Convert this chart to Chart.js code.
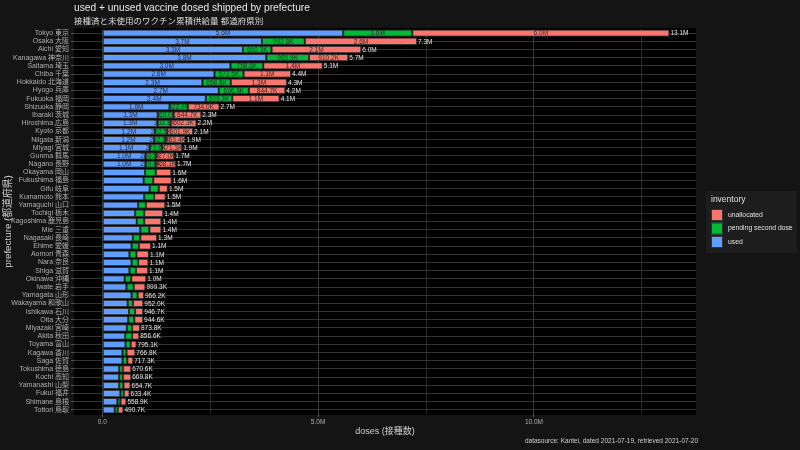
<!DOCTYPE html>
<html>
<head>
<meta charset="utf-8">
<script src="https://cdn.jsdelivr.net/npm/chart.js@4.4.1/dist/chart.umd.min.js"></script>
<style>
  html, body { margin: 0; padding: 0; background: #141414; }
  canvas { display: block; }
</style>
</head>
<body>
<canvas id="c" width="800" height="450"></canvas>
<script>
// ---- data (doses, in thousands) ----
const prefectures = [
  "Tokyo 東京","Osaka 大阪","Aichi 愛知","Kanagawa 神奈川","Saitama 埼玉","Chiba 千葉","Hokkaido 北海道","Hyogo 兵庫",
  "Fukuoka 福岡","Shizuoka 静岡","Ibaraki 茨城","Hiroshima 広島","Kyoto 京都","Niigata 新潟","Miyagi 宮城","Gunma 群馬",
  "Nagano 長野","Okayama 岡山","Fukushima 福島","Gifu 岐阜","Kumamoto 熊本","Yamaguchi 山口","Tochigi 栃木","Kagoshima 鹿児島",
  "Mie 三重","Nagasaki 長崎","Ehime 愛媛","Aomori 青森","Nara 奈良","Shiga 滋賀","Okinawa 沖縄","Iwate 岩手",
  "Yamagata 山形","Wakayama 和歌山","Ishikawa 石川","Oita 大分","Miyazaki 宮崎","Akita 秋田","Toyama 富山","Kagawa 香川",
  "Saga 佐賀","Tokushima 徳島","Kochi 高知","Yamanashi 山梨","Fukui 福井","Shimane 島根","Tottori 鳥取"
];
const used = [
  5580, 3700, 3260, 3800, 2970, 2600, 2320, 2700,
  2400, 1560, 1290, 1280, 1220, 1200, 1100, 1000,
  1000, 990, 960, 1100, 970, 830, 760, 800,
  880, 710, 680, 630, 680, 630, 520, 560,
  680, 590, 620, 600, 570, 530, 540, 470,
  470, 390, 390, 390, 420, 350, 290
];
const pendingSecondDose = [
  1600, 992.8, 660.3, 989.9, 758.6, 672.5, 658.8, 696.8,
  609.3, 422.4, 360.0, 303.1, 282.5, 262.1, 279.6, 240.9,
  239.4, 250, 220, 210, 230, 180, 210, 170,
  210, 170, 170, 160, 150, 150, 150, 170,
  140, 120, 140, 140, 120, 160, 120, 90,
  110, 90, 90, 100, 80, 70, 70
];
const unallocated = [
  5960, 2600, 2080, 910.2, 1380, 1100, 1300, 844.7,
  1100, 734.0, 644.7, 602.3, 601.9, 463.4, 471.3, 427.0,
  468.1, 360, 430, 210, 270, 450, 440, 400,
  280, 390, 280, 290, 240, 280, 350, 269.3,
  146.2, 242.0, 186.7, 204.6, 183.8, 166.6, 135.1, 206.8,
  137.3, 190.6, 189.8, 164.7, 133.4, 138.9, 130.7
];
const xTickValues = [0, 2500, 5000, 7500, 10000, 12500];
const xMajorTicks = [0, 5000, 10000];
const labelledRows = 17; // rows whose segments carry value labels

const FONT = '"Liberation Sans", "Noto Sans CJK JP", sans-serif';
const COL_UNALLOC = '#F8766D', COL_PENDING = '#00BA38', COL_USED = '#619CFF';

function fmt(vK) {
  if (vK === 0) return '0.0';
  if (vK >= 1000) return (vK / 1000).toFixed(1) + 'M';
  return vK.toFixed(1) + 'K';
}

Chart.defaults.font.family = FONT;

const decor = {
  id: 'decor',
  beforeDraw(chart) {
    const ctx = chart.ctx, a = chart.chartArea;
    ctx.save();
    ctx.fillStyle = '#141414';
    ctx.fillRect(0, 0, chart.width, chart.height);
    ctx.fillStyle = '#000000';
    ctx.fillRect(a.left, a.top - 1, a.right - a.left, a.bottom - a.top + 2);
    ctx.restore();
  },
  afterDatasetsDraw(chart) {
    const ctx = chart.ctx;
    ctx.save();
    ctx.textBaseline = 'middle';
    // segment labels
    ctx.font = '6.5px ' + FONT;
    ctx.textAlign = 'center';
    ctx.fillStyle = '#2a2a2a';
    chart.data.datasets.forEach((ds, di) => {
      const meta = chart.getDatasetMeta(di);
      meta.data.forEach((bar, i) => {
        if (i >= labelledRows) return;
        const cx = (bar.x + bar.base) / 2;
        ctx.fillText(fmt(ds.data[i]), cx, bar.y + 0.5);
      });
    });
    // totals
    ctx.textAlign = 'left';
    ctx.fillStyle = '#e6e6e6';
    const last = chart.getDatasetMeta(chart.data.datasets.length - 1);
    last.data.forEach((bar, i) => {
      const total = used[i] + pendingSecondDose[i] + unallocated[i];
      ctx.fillText(fmt(total), bar.x + 1, bar.y + 0.5);
    });
    ctx.restore();
  },
  afterDraw(chart) {
    const ctx = chart.ctx, a = chart.chartArea;
    ctx.save();
    // titles
    ctx.textAlign = 'left';
    ctx.textBaseline = 'alphabetic';
    ctx.fillStyle = '#e8e8e8';
    ctx.font = '10.2px ' + FONT;
    ctx.fillText('used + unused vaccine dosed shipped by prefecture', a.left, 10.5);
    ctx.fillStyle = '#dcdcdc';
    ctx.font = '8.5px ' + FONT;
    ctx.fillText('接種済と未使用のワクチン累積供給量 都道府県別', a.left, 23.5);
    // axis titles
    ctx.fillStyle = '#d0d0d0';
    ctx.font = '9px ' + FONT;
    ctx.textAlign = 'center';
    ctx.textBaseline = 'middle';
    ctx.fillText('doses (接種数)', (a.left + a.right) / 2, 432);
    ctx.save();
    ctx.translate(8.5, (a.top + a.bottom) / 2);
    ctx.rotate(-Math.PI / 2);
    ctx.font = '9.8px ' + FONT;
    ctx.fillText('prefecture (都道府県)', 0, 0);
    ctx.restore();
    // caption
    ctx.textAlign = 'right';
    ctx.fillStyle = '#d0d0d0';
    ctx.font = '6.5px ' + FONT;
    ctx.fillText('datasource: Kantei, dated 2021-07-19, retrieved 2021-07-20', a.right + 2, 441);
    // legend
    ctx.fillStyle = '#1d1d1d';
    ctx.fillRect(706, 191, 91, 62);
    ctx.textAlign = 'left';
    ctx.fillStyle = '#e0e0e0';
    ctx.font = '8.5px ' + FONT;
    ctx.fillText('inventory', 711, 200);
    const ds = chart.data.datasets;
    const order = [2, 1, 0];
    ctx.font = '6.8px ' + FONT;
    order.forEach((di, k) => {
      const y = 209 + k * 13.5;
      ctx.fillStyle = ds[di].backgroundColor;
      ctx.fillRect(711, y, 12, 12);
      ctx.strokeStyle = '#333';
      ctx.lineWidth = 1;
      ctx.strokeRect(711.5, y + 0.5, 11, 11);
      ctx.fillStyle = '#e0e0e0';
      ctx.fillText(ds[di].label, 728, y + 6);
    });
    ctx.restore();
  }
};

new Chart(document.getElementById('c'), {
  type: 'bar',
  data: {
    labels: prefectures,
    datasets: [
      { label: 'used', data: used, backgroundColor: COL_USED },
      { label: 'pending second dose', data: pendingSecondDose, backgroundColor: COL_PENDING },
      { label: 'unallocated', data: unallocated, backgroundColor: COL_UNALLOC }
    ].map(d => Object.assign(d, {
      borderColor: '#333333', borderWidth: 1, borderSkipped: false,
      barPercentage: 0.9, categoryPercentage: 1.0
    }))
  },
  options: {
    indexAxis: 'y',
    responsive: false,
    animation: false,
    devicePixelRatio: 1,
    layout: { padding: { top: 29, right: 104, bottom: 0, left: 0 } },
    plugins: { legend: { display: false }, tooltip: { enabled: false }, title: { display: false } },
    scales: {
      x: {
        stacked: true,
        min: -655, max: 13755,
        afterBuildTicks: s => { s.ticks = xTickValues.map(v => ({ value: v })); },
        afterFit: s => { s.height = 36; },
        border: { display: false },
        grid: {
          color: c => (xMajorTicks.includes(c.tick && c.tick.value) ? '#3a3a3a' : '#2a2a2a'),
          lineWidth: 1,
          drawTicks: true,
          tickLength: 3,
          tickColor: c => (xMajorTicks.includes(c.tick && c.tick.value) ? '#555' : 'rgba(0,0,0,0)')
        },
        ticks: {
          color: '#b0b0b0', font: { size: 6.5 }, padding: 1, autoSkip: false, maxRotation: 0,
          callback: v => (xMajorTicks.includes(v) ? fmt(v) : '')
        }
      },
      y: {
        stacked: true,
        afterFit: s => { s.width = 74; },
        border: { display: false },
        grid: { offset: false, color: '#333333', lineWidth: 1, drawTicks: true, tickLength: 3, tickColor: '#555' },
        ticks: { color: '#b0b0b0', font: { size: 7 }, padding: 2, autoSkip: false }
      }
    }
  },
  plugins: [decor]
});
</script>
</body>
</html>
